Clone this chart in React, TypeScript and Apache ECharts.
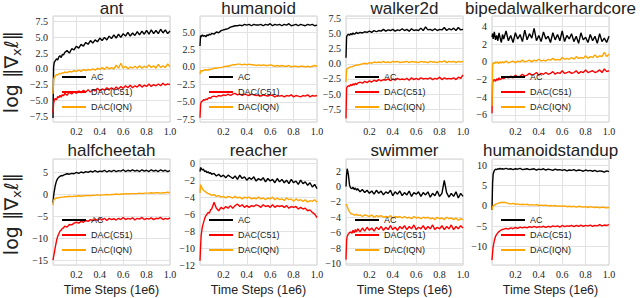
import React, { useEffect, useRef } from 'react';
import * as echarts from 'echarts';

const X = [0, 0.005, 0.01, 0.02, 0.03, 0.04, 0.05, 0.06, 0.07, 0.08, 0.09,
  0.10, 0.12, 0.14, 0.16, 0.18, 0.20, 0.22, 0.24, 0.26, 0.28,
  0.30, 0.32, 0.34, 0.36, 0.38, 0.40, 0.42, 0.44, 0.46, 0.48,
  0.50, 0.52, 0.54, 0.56, 0.58, 0.60, 0.62, 0.64, 0.66, 0.68,
  0.70, 0.72, 0.74, 0.76, 0.78, 0.80, 0.82, 0.84, 0.86, 0.88,
  0.90, 0.92, 0.94, 0.96, 0.98, 1.00];

const TITLES = ['ant', 'humanoid', 'walker2d', 'bipedalwalkerhardcore', 'halfcheetah', 'reacher', 'swimmer', 'humanoidstandup'];
const SERIES_NAMES = ['AC', 'DAC(C51)', 'DAC(IQN)'];

// ant
const antAC = [-7.8, 0.2, 1.0, 1.3, 1.6, 1.4, 1.9, 2.1, 1.8, 2.3, 2.2,
  2.6, 2.9, 2.5, 3.2, 3.0, 3.6, 3.3, 3.9, 3.6, 4.2,
  3.9, 4.5, 4.1, 4.6, 4.3, 4.9, 4.5, 5.0, 4.6, 5.2,
  4.8, 5.4, 4.9, 5.5, 5.0, 5.6, 5.2, 5.8, 5.2, 5.7,
  5.3, 5.9, 5.4, 6.0, 5.5, 6.1, 5.5, 6.2, 5.6, 6.1,
  5.6, 6.3, 5.7, 6.2, 5.6, 6.0];
const antC51 = [-7.0, -5.6, -5.0, -4.7, -4.9, -4.4, -4.6, -4.2, -4.5, -4.1, -4.3,
  -3.9, -4.2, -3.7, -4.0, -3.6, -3.9, -3.5, -3.8, -3.4, -3.7,
  -3.3, -3.7, -3.3, -3.5, -3.1, -3.5, -3.2, -3.4, -3.0, -3.3,
  -3.0, -3.3, -2.9, -3.2, -2.8, -3.1, -2.7, -3.0, -2.6, -3.0,
  -2.7, -2.9, -2.5, -2.9, -2.6, -2.8, -2.4, -2.8, -2.5, -2.7,
  -2.4, -2.7, -2.3, -2.6, -2.4, -2.5];
const antIQN = [-4.0, -1.8, -1.4, -1.1, -0.9, -1.0, -0.8, -0.7, -0.8, -0.6, -0.7,
  -0.5, -0.6, -0.4, -0.5, -0.3, -0.4, -0.2, -0.4, -0.1, -0.3,
  -0.1, -0.2, 0.0, -0.2, 0.1, -0.1, 0.2, -0.1, 0.3, 0.0,
  0.2, 0.0, 0.6, 0.1, 0.9, 0.1, 0.4, 0.0, 0.3, 0.1,
  0.4, 0.1, 0.5, 0.1, 0.4, 0.2, 0.6, 0.2, 0.5, 0.1,
  0.7, 0.2, 0.5, 0.2, 0.8, 0.3];

// humanoid
const humAC = [3.0, 4.5, 4.3, 4.6, 4.4, 4.5, 4.3, 4.6, 4.5, 4.7, 4.6,
  4.8, 4.7, 5.0, 4.9, 5.2, 5.3, 5.4, 5.5, 5.7, 5.8,
  5.9, 5.9, 6.0, 5.9, 6.1, 6.0, 6.1, 5.9, 6.1, 6.0,
  6.0, 6.1, 5.9, 6.1, 6.0, 6.2, 5.9, 6.1, 6.0, 6.1,
  5.9, 6.1, 6.0, 6.2, 5.9, 6.0, 6.1, 5.9, 6.1, 6.0,
  5.9, 6.1, 6.0, 6.1, 5.9, 6.0];
const humC51 = [-7.3, -5.4, -5.0, -4.9, -4.7, -4.8, -4.6, -4.7, -4.5, -4.4, -4.5,
  -4.3, -4.2, -4.3, -4.1, -4.2, -4.0, -4.1, -3.9, -4.1, -3.9,
  -3.8, -4.0, -3.9, -4.1, -3.9, -4.0, -4.1, -3.9, -4.0, -4.1,
  -4.0, -4.2, -4.0, -4.1, -4.2, -4.0, -4.1, -4.3, -4.1, -4.2,
  -4.1, -4.3, -4.1, -4.2, -4.0, -4.3, -4.1, -4.2, -4.3, -4.1,
  -4.2, -4.0, -4.3, -4.1, -4.2, -4.1];
const humIQN = [-1.0, -0.6, -0.5, -0.6, -0.5, -0.4, -0.5, -0.4, -0.5, -0.3, -0.4,
  -0.3, -0.2, -0.2, -0.1, -0.1, 0.0, 0.1, 0.1, 0.2, 0.3,
  0.3, 0.4, 0.4, 0.3, 0.4, 0.3, 0.4, 0.3, 0.3, 0.2,
  0.3, 0.2, 0.3, 0.2, 0.2, 0.3, 0.2, 0.1, 0.2, 0.1,
  0.2, 0.1, 0.1, 0.2, 0.0, 0.1, 0.1, 0.0, 0.1, 0.1,
  0.0, 0.1, 0.0, 0.1, 0.2, 0.1];

// walker2d
const walkAC = [1.0, 4.4, 4.7, 4.9, 4.7, 5.0, 4.8, 5.1, 4.9, 5.0, 5.2,
  5.0, 5.2, 5.1, 5.3, 5.2, 5.4, 5.2, 5.5, 5.3, 5.5,
  5.4, 5.7, 5.4, 5.6, 5.5, 5.7, 5.4, 5.6, 5.5, 5.8,
  5.5, 5.7, 5.4, 5.8, 5.5, 5.6, 5.5, 5.9, 5.5, 6.1,
  5.6, 5.7, 5.5, 5.8, 5.5, 5.7, 5.6, 6.0, 5.5, 5.8,
  5.6, 5.9, 5.5, 6.0, 5.6, 5.7];
const walkC51 = [-9.0, -4.0, -3.8, -3.6, -3.7, -3.4, -3.6, -3.3, -3.5, -3.2, -3.4,
  -3.2, -3.0, -3.2, -2.9, -3.1, -2.8, -3.0, -2.7, -2.9, -2.6,
  -2.8, -2.6, -2.7, -2.5, -2.8, -2.5, -2.7, -2.4, -2.6, -2.5,
  -2.6, -2.4, -2.7, -2.3, -2.6, -2.4, -2.6, -2.3, -2.5, -2.4,
  -2.5, -2.3, -2.6, -2.4, -2.5, -2.2, -2.6, -2.3, -2.5, -2.4,
  -2.5, -2.3, -2.6, -2.2, -2.4, -1.8];
const walkIQN = [-3.0, -1.0, -0.8, -0.7, -0.6, -0.5, -0.5, -0.4, -0.3, -0.3, -0.2,
  -0.2, -0.1, 0.0, 0.1, 0.0, 0.2, 0.1, 0.3, 0.2, 0.3,
  0.2, 0.4, 0.2, 0.3, 0.2, 0.4, 0.3, 0.4, 0.2, 0.3,
  0.3, 0.4, 0.2, 0.4, 0.3, 0.3, 0.2, 0.4, 0.3, 0.3,
  0.2, 0.4, 0.3, 0.3, 0.2, 0.4, 0.3, 0.5, 0.2, 0.4,
  0.3, 0.4, 0.2, 0.4, 0.3, 0.4];

// bipedalwalkerhardcore
const bipAC = [2.8, 3.2, 2.6, 3.4, 2.5, 3.0, 2.4, 3.3, 2.7, 2.2, 3.1,
  2.6, 3.5, 2.4, 3.0, 2.2, 3.3, 2.6, 3.1, 2.3, 3.6,
  2.5, 3.2, 2.7, 3.8, 2.4, 3.0, 2.3, 3.4, 2.6, 2.9,
  2.2, 3.3, 2.5, 3.1, 2.4, 3.5, 2.3, 3.0, 2.6, 3.2,
  2.3, 2.9, 2.1, 3.3, 2.5, 2.8, 2.2, 3.1, 2.4, 2.9,
  2.1, 3.2, 2.3, 2.7, 2.2, 2.9];
const bipC51 = [-5.8, -2.4, -2.1, -2.0, -2.2, -1.9, -2.1, -1.8, -2.0, -1.9, -1.8,
  -1.9, -1.7, -1.8, -1.6, -1.8, -1.5, -1.7, -1.6, -1.4, -1.6,
  -1.5, -1.3, -1.5, -1.4, -1.2, -1.5, -1.3, -1.4, -1.2, -1.4,
  -1.3, -1.1, -1.4, -1.2, -1.3, -1.0, -1.3, -1.2, -1.1, -1.3,
  -1.2, -1.0, -1.3, -1.1, -1.2, -0.9, -1.2, -1.1, -1.0, -1.2,
  -1.1, -0.9, -1.2, -0.8, -1.1, -1.0];
const bipIQN = [-5.0, -0.3, -0.1, -0.2, 0.0, -0.1, 0.0, -0.2, 0.0, -0.1, 0.0,
  -0.1, 0.1, -0.1, 0.0, 0.1, -0.1, 0.1, 0.0, 0.2, 0.0,
  0.1, 0.2, 0.0, 0.2, 0.1, 0.3, 0.1, 0.2, 0.1, 0.3,
  0.2, 0.4, 0.2, 0.3, 0.2, 0.5, 0.3, 0.4, 0.3, 0.5,
  0.3, 0.6, 0.4, 0.5, 0.4, 0.7, 0.4, 0.6, 0.5, 0.8,
  0.5, 0.7, 0.6, 1.1, 0.6, 0.9];

// halfcheetah
const hcAC = [-2.0, -0.5, 0.5, 2.0, 3.0, 3.5, 3.8, 4.0, 4.2, 4.1, 4.3,
  4.4, 4.6, 4.5, 4.7, 4.6, 4.9, 4.7, 5.0, 4.8, 5.1,
  4.9, 5.2, 5.0, 5.3, 5.0, 5.2, 5.1, 5.4, 5.0, 5.3,
  5.1, 5.4, 5.1, 5.3, 5.2, 5.5, 5.1, 5.4, 5.2, 5.5,
  5.2, 5.4, 5.1, 5.5, 5.2, 5.4, 5.1, 5.5, 5.2, 5.4,
  5.1, 5.5, 5.2, 5.4, 5.1, 5.3];
const hcC51 = [-15.0, -14.2, -13.5, -12.0, -10.6, -9.6, -9.0, -8.4, -8.2, -7.8, -7.7,
  -7.3, -7.5, -6.9, -7.0, -6.6, -6.4, -6.6, -6.2, -6.4, -6.0,
  -6.2, -5.8, -6.1, -5.7, -6.0, -5.6, -5.9, -5.5, -6.0, -5.5,
  -5.8, -5.6, -5.9, -5.5, -5.8, -5.3, -5.8, -5.5, -5.7, -5.4,
  -5.9, -5.5, -5.7, -5.3, -5.8, -5.5, -5.7, -5.4, -5.8, -5.5,
  -5.6, -5.3, -5.8, -5.5, -5.7, -5.4];
const hcIQN = [-2.5, -1.5, -1.2, -1.0, -0.9, -0.9, -0.8, -0.8, -0.7, -0.7, -0.7,
  -0.6, -0.6, -0.5, -0.6, -0.5, -0.5, -0.4, -0.5, -0.4, -0.4,
  -0.3, -0.4, -0.3, -0.3, -0.2, -0.3, -0.2, -0.2, -0.1, -0.2,
  -0.1, -0.1, 0.0, -0.1, 0.0, 0.0, 0.1, 0.0, 0.1, 0.1,
  0.1, 0.1, 0.2, 0.1, 0.2, 0.2, 0.2, 0.3, 0.2, 0.3,
  0.3, 0.2, 0.3, 0.3, 0.4, 0.3];

// reacher
const reAC = [-1.0, -0.5, -0.6, -0.8, -0.7, -1.0, -0.9, -1.1, -1.0, -1.2, -1.1,
  -1.3, -1.2, -1.5, -1.3, -1.6, -1.4, -1.7, -1.4, -1.6, -1.8,
  -1.5, -1.9, -1.4, -1.8, -1.6, -2.0, -1.7, -1.9, -1.6, -2.1,
  -1.8, -2.0, -1.7, -2.2, -1.8, -2.1, -1.9, -2.3, -1.8, -2.2,
  -1.9, -2.3, -2.0, -2.4, -1.9, -2.3, -2.1, -2.5, -2.0, -2.4,
  -2.2, -2.6, -2.3, -2.8, -2.5, -3.0];
const reC51 = [-11.5, -9.8, -8.5, -7.5, -7.0, -6.5, -6.2, -6.0, -5.8, -5.9, -5.5,
  -5.4, -4.6, -5.3, -5.6, -5.2, -5.4, -5.1, -5.3, -5.0, -5.3,
  -5.0, -4.8, -5.1, -4.9, -5.2, -5.0, -5.2, -5.0, -5.1, -4.9,
  -5.0, -5.2, -4.9, -5.1, -5.0, -5.2, -4.9, -5.2, -5.0, -5.1,
  -5.0, -5.2, -5.0, -5.3, -5.1, -5.2, -5.1, -5.4, -5.2, -5.4,
  -5.3, -5.6, -5.5, -5.8, -6.0, -6.4];
const reIQN = [-3.5, -2.5, -2.7, -3.0, -3.2, -3.3, -3.4, -3.5, -3.6, -3.6, -3.7,
  -3.8, -3.7, -3.9, -3.8, -4.0, -3.9, -4.1, -3.9, -4.0, -4.1,
  -3.9, -4.1, -4.0, -4.2, -4.0, -4.1, -4.0, -4.2, -4.1, -4.2,
  -4.0, -4.2, -4.1, -4.3, -4.1, -4.2, -4.0, -4.3, -4.1, -4.3,
  -4.2, -4.4, -4.1, -4.3, -4.2, -4.5, -4.2, -4.4, -4.3, -4.5,
  -4.3, -4.6, -4.4, -4.5, -4.3, -4.6];

// swimmer
const swAC = [0.0, 1.5, 2.3, 1.6, 0.2, -0.2, -0.3, -0.1, -0.4, -0.2, -0.5,
  -0.3, -0.7, -0.4, -0.8, -0.5, -0.9, -0.6, -1.0, -0.5, -0.9,
  -0.6, -1.1, -0.7, -0.9, -0.5, -1.2, -0.7, -1.0, -0.6, -1.2,
  -0.8, -1.1, -0.6, -1.3, -0.8, -1.0, -0.7, -1.3, -0.8, -1.1,
  -0.7, -1.4, -0.9, -1.2, -0.6, -1.3, -0.9, 0.8, -0.8, -1.4,
  -0.9, -1.3, -0.7, -1.5, -0.9, -1.3];
const swC51 = [-9.5, -7.0, -6.5, -6.2, -6.0, -5.9, -6.1, -5.7, -6.0, -5.6, -5.9,
  -5.5, -5.9, -5.4, -5.8, -5.3, -5.7, -5.4, -5.8, -5.3, -5.6,
  -5.2, -5.7, -5.3, -5.6, -5.1, -5.6, -5.3, -5.7, -5.2, -5.5,
  -5.1, -5.6, -5.2, -5.5, -5.0, -5.6, -5.3, -5.5, -5.1, -5.6,
  -5.2, -5.5, -5.0, -5.6, -5.3, -5.5, -5.1, -5.6, -5.2, -5.5,
  -5.0, -5.6, -5.2, -5.5, -5.1, -5.4];
const swIQN = [-2.5, -2.3, -2.6, -3.0, -3.3, -3.5, -3.6, -3.6, -3.7, -3.7, -3.6,
  -3.8, -3.7, -3.9, -3.7, -3.8, -3.9, -3.7, -4.0, -3.8, -3.9,
  -3.8, -4.0, -3.9, -4.0, -3.8, -4.1, -3.9, -4.0, -3.9, -4.1,
  -3.9, -4.1, -4.0, -4.2, -3.9, -4.1, -4.0, -4.2, -4.0, -4.1,
  -4.0, -4.2, -4.1, -4.3, -4.0, -4.2, -4.1, -4.3, -4.0, -4.2,
  -4.1, -4.3, -4.1, -4.4, -4.2, -4.3];

// humanoidstandup
const hsAC = [-1.0, 5.5, 7.8, 8.7, 9.0, 8.9, 9.1, 9.0, 9.2, 9.0, 9.1,
  9.0, 9.2, 9.0, 9.1, 8.9, 9.1, 9.0, 9.2, 8.9, 9.0,
  9.1, 8.9, 9.0, 9.1, 8.8, 9.0, 8.9, 9.1, 8.8, 9.0,
  8.9, 8.7, 9.0, 8.8, 8.9, 8.7, 8.9, 8.6, 8.8, 8.7,
  8.9, 8.6, 8.8, 8.7, 8.5, 8.8, 8.6, 8.7, 8.5, 8.7,
  8.4, 8.6, 8.5, 8.3, 8.6, 8.4];
const hsC51 = [-13.3, -11.5, -10.0, -8.5, -7.5, -7.0, -6.6, -6.3, -6.1, -5.9, -5.8,
  -5.7, -5.5, -5.7, -5.4, -5.6, -5.3, -5.5, -5.2, -5.4, -5.2,
  -5.4, -5.1, -5.3, -5.0, -5.3, -5.1, -5.2, -5.0, -5.3, -5.0,
  -5.2, -4.9, -5.1, -4.9, -5.2, -4.8, -5.1, -4.9, -5.0, -4.8,
  -5.1, -4.8, -5.0, -4.7, -5.0, -4.8, -4.9, -4.7, -5.0, -4.8,
  -4.9, -4.6, -4.9, -4.7, -4.8, -4.6];
const hsIQN = [-1.0, -0.2, 0.0, 0.2, 0.4, 0.5, 0.6, 0.7, 0.8, 0.9, 0.8,
  0.9, 0.8, 0.6, 0.5, 0.6, 0.4, 0.5, 0.3, 0.4, 0.3,
  0.4, 0.2, 0.3, 0.2, 0.3, 0.1, 0.2, 0.1, 0.2, 0.0,
  0.1, 0.0, 0.1, -0.1, 0.0, -0.1, 0.0, -0.2, -0.1, -0.2,
  -0.1, -0.3, -0.1, -0.2, -0.3, -0.2, -0.4, -0.2, -0.3, -0.4,
  -0.3, -0.5, -0.3, -0.4, -0.5, -0.4];

const PANEL_SERIES = [
  [antAC, antC51, antIQN],
  [humAC, humC51, humIQN],
  [walkAC, walkC51, walkIQN],
  [bipAC, bipC51, bipIQN],
  [hcAC, hcC51, hcIQN],
  [reAC, reC51, reIQN],
  [swAC, swC51, swIQN],
  [hsAC, hsC51, hsIQN],
];

const Y_MIN = [-8.45, -7.9, -9.6, -6.8, -16.1, -12, -10.2, -14.5];
const Y_MAX = [8.4, 7.3, 7.9, 5.2, 7.95, 0.5, 3.56, 11.5];
const Y_STEP = [2.5, 2.5, 2.5, 2, 5, 2, 2, 5];

const COLORS = ['#000000', '#ff0000', '#ffa500'];
const LEFTS = [53, 200, 346, 492];
const TOPS = [16, 159];
const PW = 117;
const PH = 106;
const SERIF = '"Liberation Serif", "Times New Roman", serif';

const isMult = (v: number, s: number) => Math.abs(v / s - Math.round(v / s)) < 1e-6;

function buildOption() {
  const grid: any[] = [];
  const xAxis: any[] = [];
  const yAxis: any[] = [];
  const series: any[] = [];
  const legend: any[] = [];
  const graphic: any[] = [];
  const splitColor = '#e2e2e2';
  for (let i = 0; i < 8; i++) {
    const r = Math.floor(i / 4);
    const c = i % 4;
    const left = LEFTS[c];
    const top = TOPS[r];
    grid.push({ left, top, width: PW, height: PH, show: true, borderColor: '#d0d0d0', borderWidth: 1, backgroundColor: '#ffffff' });
    xAxis.push({
      type: 'value', gridIndex: i, min: 0, max: 1, interval: 0.2,
      axisLine: { show: false }, axisTick: { show: false },
      splitLine: { show: true, lineStyle: { color: splitColor, width: 1 } },
      axisLabel: {
        fontFamily: SERIF, fontSize: 10, color: '#222', margin: 4,
        showMinLabel: false,
        formatter: (v: number) => (Math.abs(v) < 1e-9 ? '' : v.toFixed(1)),
      },
    });
    const step = Y_STEP[i];
    const dec = step === 2.5 ? 1 : 0;
    yAxis.push({
      type: 'value', gridIndex: i, min: Y_MIN[i], max: Y_MAX[i], minInterval: step, maxInterval: step,
      axisLine: { show: false }, axisTick: { show: false },
      splitLine: { show: true, lineStyle: { color: splitColor, width: 1 } },
      axisLabel: {
        fontFamily: SERIF, fontSize: 10, color: '#222', margin: 5,
        showMinLabel: isMult(Y_MIN[i], step), showMaxLabel: isMult(Y_MAX[i], step),
        formatter: (v: number) => {
          const vv = Math.abs(v) < 1e-9 ? 0 : v;
          return vv.toFixed(dec).replace('-', '\u2212');
        },
      },
    });
    PANEL_SERIES[i].forEach((arr, k) => {
      series.push({
        type: 'line', name: SERIES_NAMES[k], xAxisIndex: i, yAxisIndex: i,
        data: X.map((x, j) => [x, arr[j]]),
        symbol: 'none', showSymbol: false, silent: true,
        lineStyle: { width: 1.4, color: COLORS[k] }, itemStyle: { color: COLORS[k] },
        z: 2,
      });
    });
    legend.push({
      data: SERIES_NAMES.map((n) => ({ name: n, icon: 'path://M0 0H24V2H0Z' })),
      orient: 'vertical', left: left + 9, top: top + 54.5,
      itemWidth: 24, itemHeight: 13, itemGap: 2, padding: 0, selectedMode: false,
      textStyle: { fontFamily: 'Liberation Sans', fontSize: 9, color: '#222', lineHeight: 13 },
    });
    graphic.push({
      type: 'text', x: left + PW / 2, y: r === 0 ? 8 : 150, silent: true,
      style: { text: TITLES[i], font: '17px "Liberation Sans"', fill: '#222', align: 'center', verticalAlign: 'middle' },
    });
    if (r === 1) {
      graphic.push({
        type: 'text', x: left + PW / 2, y: 290, silent: true,
        style: { text: 'Time Steps (1e6)', font: '12.5px "Liberation Sans"', fill: '#222', align: 'center', verticalAlign: 'middle' },
      });
    }
  }
  [72, 214].forEach((cy) => {
    graphic.push({
      type: 'text', x: 11, y: cy, rotation: Math.PI / 2, silent: true,
      style: {
        text: '{a|log \u2016\u2207}{s|x}{a|\u2113\u2016}',
        align: 'center', verticalAlign: 'middle', fill: '#222',
        rich: {
          a: { fontFamily: 'DejaVu Sans', fontSize: 19, fill: '#222', lineHeight: 24 },
          s: { fontFamily: 'DejaVu Sans', fontSize: 13, fill: '#222', lineHeight: 24, verticalAlign: 'bottom', padding: [8, 0, 0, 0] },
        },
      },
    });
  });
  return {
    animation: false,
    backgroundColor: '#ffffff',
    grid, xAxis, yAxis, series, legend, graphic,
  };
}

export default function App() {
  const ref = useRef<HTMLDivElement>(null);
  useEffect(() => {
    if (!ref.current) return;
    const chart = echarts.init(ref.current, null, { renderer: 'svg' });
    chart.setOption(buildOption() as any);
    return () => chart.dispose();
  }, []);
  return <div ref={ref} style={{ position: 'fixed', left: 0, top: 0, width: 640, height: 298 }} />;
}
